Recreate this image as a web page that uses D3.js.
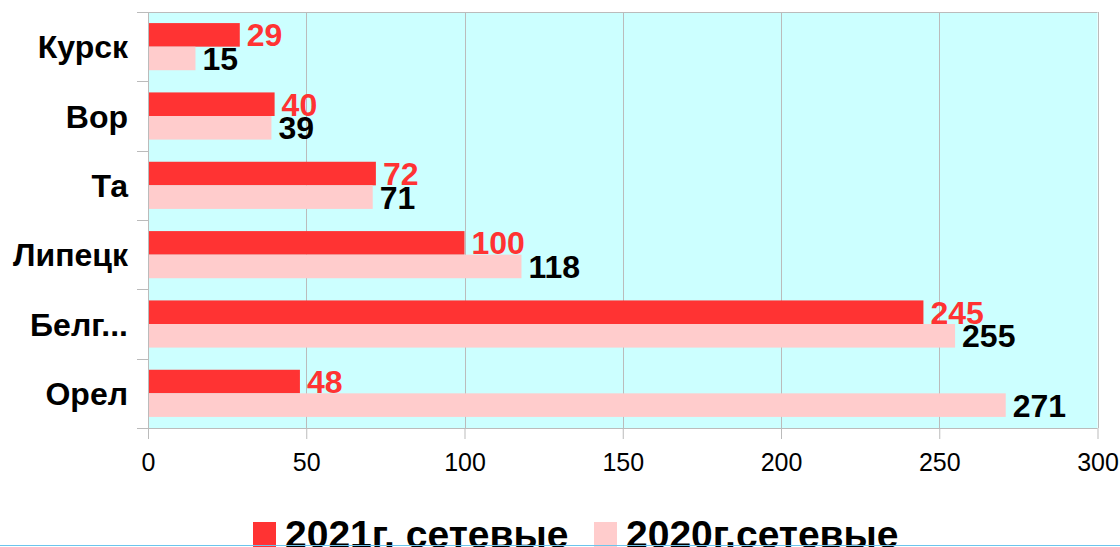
<!DOCTYPE html>
<html lang="ru">
<head>
<meta charset="utf-8">
<title>2021 vs 2020 сетевые</title>
<script src="https://d3js.org/d3.v7.min.js"></script>
<style>
    body { margin: 0; background: #fff; }
    svg { display: block; font-family: "Liberation Sans", Arial, sans-serif; }
</style>
</head>
<body>
<div id="chart"></div>
<script>
    // Data
    var regions = ["Курск", "Вор", "Та", "Липецк", "Белг...", "Орел"];
    var series = ["2021г. сетевые", "2020г.сетевые"];
    var values2021 = [29, 40, 72, 100, 245, 48];
    var values2020 = [15, 39, 71, 118, 255, 271];
    var xTicks = [0, 50, 100, 150, 200, 250, 300];

    var width = 1120, height = 547;
    var plot = { left: 148, right: 1097.5, top: 12, bottom: 428 };
    var colours = ["#ff3333", "#ffcccc"];
    var labelColours = ["#ff3333", "#000"];
    var gridColour = "#bbbbbb";

    var svg = d3.select("#chart").append("svg")
        .attr("width", width)
        .attr("height", height);

    var x = d3.scaleLinear().domain([0, 300]).range([plot.left, plot.right]);
    var y = d3.scaleBand().domain(regions).range([plot.top, plot.bottom])
        .paddingInner(0.32).paddingOuter(0.16);
    var ySub = d3.scaleBand().domain(series).range([0, y.bandwidth()]);

    // Plot background
    svg.append("rect")
        .attr("x", plot.left).attr("y", plot.top)
        .attr("width", plot.right - plot.left)
        .attr("height", plot.bottom - plot.top)
        .attr("fill", "#ccffff");

    // Vertical grid lines
    svg.append("g").selectAll("line").data(xTicks).join("line")
        .attr("x1", function(d) { return Math.round(x(d)) + 0.5; })
        .attr("x2", function(d) { return Math.round(x(d)) + 0.5; })
        .attr("y1", plot.top).attr("y2", plot.bottom)
        .attr("stroke", gridColour);

    // Top border
    svg.append("line")
        .attr("x1", plot.left - 11).attr("x2", plot.right)
        .attr("y1", plot.top + 0.5).attr("y2", plot.top + 0.5)
        .attr("stroke", gridColour);

    // Bars
    var rows = regions.map(function(r, i) {
        return { region: r, vals: [values2021[i], values2020[i]] };
    });
    var group = svg.append("g").selectAll("g").data(rows).join("g")
        .attr("transform", function(d) { return "translate(0," + y(d.region) + ")"; });

    group.selectAll("rect").data(function(d) { return d.vals; }).join("rect")
        .attr("x", x(0))
        .attr("y", function(d, i) { return ySub(series[i]); })
        .attr("width", function(d) { return x(d) - x(0); })
        .attr("height", ySub.bandwidth())
        .attr("fill", function(d, i) { return colours[i]; });

    group.selectAll("text").data(function(d) { return d.vals; }).join("text")
        .attr("x", function(d) { return x(d) + 7; })
        .attr("y", function(d, i) { return ySub(series[i]) + ySub.bandwidth() / 2; })
        .attr("dy", "0.36em")
        .attr("font-size", 32)
        .attr("font-weight", "bold")
        .attr("fill", function(d, i) { return labelColours[i]; })
        .text(function(d) { return d; });

    // X axis
    var xAxis = svg.append("g")
        .attr("transform", "translate(0," + plot.bottom + ")")
        .call(d3.axisBottom(x).tickValues(xTicks).tickSize(11).tickPadding(14));
    xAxis.select(".domain").attr("stroke", gridColour)
        .attr("d", "M" + (plot.left - 11) + ",0.5H" + plot.right);
    xAxis.selectAll(".tick line").attr("stroke", gridColour);
    xAxis.selectAll(".tick text").attr("font-size", 25).attr("fill", "#000")
        .attr("font-family", "Liberation Sans, Arial, sans-serif");

    // Y axis: ticks at band boundaries
    var boundaries = d3.range(regions.length + 1).map(function(i) {
        return plot.top + i * y.step();
    });
    svg.append("line")
        .attr("x1", plot.left + 0.5).attr("x2", plot.left + 0.5)
        .attr("y1", plot.top).attr("y2", plot.bottom + 11)
        .attr("stroke", gridColour);
    svg.append("g").selectAll("line").data(boundaries).join("line")
        .attr("x1", plot.left - 11).attr("x2", plot.left)
        .attr("y1", function(d) { return Math.round(d) + 0.5; })
        .attr("y2", function(d) { return Math.round(d) + 0.5; })
        .attr("stroke", gridColour);

    svg.append("g").selectAll("text").data(regions).join("text")
        .attr("x", 128)
        .attr("y", function(d) { return y(d) + y.bandwidth() / 2; })
        .attr("dy", "0.36em")
        .attr("text-anchor", "end")
        .attr("font-size", 32)
        .attr("font-weight", "bold")
        .text(function(d) { return d; });

    // Legend
    var legendX = [253, 594];
    var legend = svg.append("g").selectAll("g").data(series).join("g")
        .attr("transform", function(d, i) { return "translate(" + legendX[i] + ",0)"; });
    legend.append("rect")
        .attr("x", 0).attr("y", 522).attr("width", 23).attr("height", 25)
        .attr("fill", function(d, i) { return colours[i]; });
    legend.append("text")
        .attr("x", 32).attr("y", 548)
        .attr("font-size", 39)
        .attr("font-weight", "bold")
        .text(function(d) { return d; });

    // Bottom blue rule
    svg.append("line")
        .attr("x1", 0).attr("x2", width)
        .attr("y1", 545.5).attr("y2", 545.5)
        .attr("stroke", "#6cc4ec");
</script>
</body>
</html>
